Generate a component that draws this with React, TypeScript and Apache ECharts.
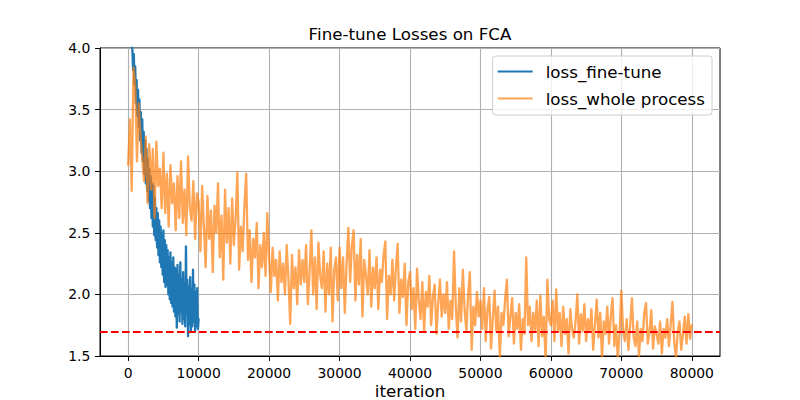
import React, { useEffect, useRef } from "react";
import * as echarts from "echarts";

const FT_STEP = 100;
const WP_STEP = 250;

const seriesNames = ["loss_fine-tune", "loss_whole process"];

// loss_fine-tune, iterations 0..10000 step 100
const ftLoss = [
  4.80, 4.62, 4.45, 4.30, 4.18, 4.05, 3.98, 3.82, 3.95, 3.70,
  3.85, 3.55, 3.74, 3.45, 3.66, 3.36, 3.58, 3.25, 3.48, 3.15,
  3.42, 3.08, 3.32, 2.98, 3.25, 2.90, 3.18, 2.84, 3.10, 2.76,
  3.02, 2.70, 2.96, 2.62, 2.90, 2.55, 2.88, 2.48, 2.78, 2.44,
  2.70, 2.38, 2.66, 2.32, 2.60, 2.26, 2.55, 2.22, 2.50, 2.16,
  2.52, 2.10, 2.44, 2.06, 2.40, 2.08, 2.36, 2.00, 2.30, 1.96,
  2.34, 1.93, 2.26, 1.90, 2.30, 1.86, 2.22, 1.82, 2.20, 1.73,
  2.24, 1.84, 2.16, 1.78, 2.26, 1.86, 2.12, 1.76, 2.18, 1.80,
  2.08, 1.74, 2.39, 1.84, 2.12, 1.66, 2.06, 1.76, 2.14, 1.70,
  2.04, 1.74, 2.20, 1.78, 2.08, 1.70, 2.02, 1.74, 2.05, 1.72,
  1.80,
];

// loss_whole process, iterations 0..80000 step 250
const wpLoss = [
  3.05, 3.42, 2.84, 3.84, 3.70, 3.08, 3.55, 3.28, 3.10, 2.92, 3.28, 2.74, 3.22, 2.85, 3.18, 2.62, 3.24, 2.88, 3.02, 2.70,
  3.15, 2.66, 2.98, 2.55, 3.05, 2.74, 2.90, 2.52, 2.96, 2.62, 3.08, 2.58, 2.85, 2.48, 3.12, 2.70, 2.60, 2.92, 2.45, 2.82,
  2.75, 2.35, 2.88, 2.55, 2.22, 2.80, 2.45, 2.68, 2.18, 2.72, 2.50, 2.90, 2.30, 2.64, 2.12, 2.85, 2.42, 2.70, 2.25, 2.78,
  2.40, 2.62, 2.99, 2.20, 2.55, 2.35, 2.72, 2.98, 2.28, 2.52, 2.10, 2.45, 2.30, 2.58, 2.05, 2.40, 2.22, 2.50, 2.15, 2.66,
  2.30, 2.02, 2.38, 2.15, 2.28, 1.95, 2.35, 2.10, 2.25, 2.00, 2.40, 2.12, 1.76, 2.32, 2.05, 2.22, 1.92, 2.36, 2.08, 2.28,
  2.10, 2.40, 1.92, 2.18, 2.52, 2.00, 2.30, 1.88, 2.42, 2.15, 2.05, 2.35, 1.86, 2.25, 2.00, 2.38, 1.78, 2.20, 2.30, 1.95,
  2.38, 2.05, 2.30, 1.85, 2.25, 2.54, 2.10, 2.40, 2.52, 1.95, 2.32, 2.08, 2.45, 1.82, 2.28, 2.15, 2.00, 2.36, 1.90, 2.22,
  2.05, 2.30, 1.88, 2.20, 2.10, 2.32, 2.43, 1.80, 2.15, 2.00, 2.28, 1.95, 2.22, 2.41, 1.85, 2.12, 1.98, 2.25, 1.75, 2.10,
  2.18, 1.88, 2.05, 1.72, 2.21, 1.95, 1.80, 2.10, 1.70, 2.02, 1.90, 2.15, 1.75, 1.98, 2.08, 1.68, 1.92, 2.12, 1.82, 2.00,
  1.85, 2.10, 1.72, 1.95, 1.80, 2.35, 1.90, 1.65, 2.05, 1.78, 2.20, 1.88, 1.70, 2.00, 2.18, 1.55, 1.90, 1.75, 2.02, 1.82,
  1.95, 1.72, 2.05, 1.62, 1.88, 1.98, 1.56, 1.80, 2.03, 1.70, 1.90, 1.48, 1.85, 1.75, 1.96, 2.12, 1.66, 1.82, 1.97, 1.60,
  1.85, 1.72, 1.92, 1.55, 1.80, 1.68, 2.30, 1.75, 1.90, 1.62, 1.85, 1.70, 1.95, 1.58, 1.99, 1.66, 1.82, 1.46, 2.12, 1.80,
  1.75, 1.95, 1.62, 2.04, 1.70, 1.85, 1.58, 1.90, 1.68, 1.80, 1.52, 1.88, 1.72, 1.65, 1.78, 2.00, 1.60, 1.84, 1.70, 1.92,
  1.62, 1.80, 1.70, 1.88, 1.55, 1.75, 1.96, 1.65, 1.85, 1.48, 1.78, 1.68, 1.90, 1.60, 1.82, 1.97, 1.58, 1.75, 1.47, 1.70,
  2.03, 1.70, 1.62, 1.80, 1.55, 1.75, 1.97, 1.65, 1.58, 1.78, 1.50, 1.72, 1.62, 1.85, 1.93, 1.60, 1.70, 1.87, 1.56, 1.74,
  1.68, 1.60, 1.78, 1.52, 1.72, 1.65, 1.80, 1.58, 1.75, 1.94, 1.62, 1.48, 1.70, 1.78, 1.55, 1.68, 1.82, 1.60, 1.84, 1.64,
  1.75,
];

const xTicks = [0, 10000, 20000, 30000, 40000, 50000, 60000, 70000, 80000];
const yTicks = [1.5, 2.0, 2.5, 3.0, 3.5, 4.0];
const baseline = 1.7;

const FONT = "DejaVu Sans";

export default function App() {
  const ref = useRef<HTMLDivElement>(null);

  useEffect(() => {
    if (!ref.current) return;
    const chart = echarts.init(ref.current, null, { renderer: "svg" });
    chart.setOption({
      animation: false,
      backgroundColor: "#ffffff",
      graphic: [
        {
          type: "text",
          x: 410,
          y: 34,
          style: {
            text: "Fine-tune Losses on FCA",
            fontFamily: FONT,
            fontSize: 16.7,
            fill: "#000000",
            align: "center",
            verticalAlign: "middle",
          },
        },
      ],
      grid: {
        left: 100,
        right: 80,
        top: 48,
        bottom: 44,
        show: true,
        borderColor: "#000000",
        borderWidth: 1,
        backgroundColor: "transparent",
        outerBoundsMode: "none",
        containLabel: false,
      },
      legend: {
        right: 88,
        top: 56,
        orient: "vertical",
        icon: "rect",
        itemWidth: 35,
        itemHeight: 2.2,
        itemGap: 8,
        padding: [6, 7, 7, 5],
        backgroundColor: "rgba(255,255,255,0.8)",
        borderColor: "#cccccc",
        borderWidth: 1,
        borderRadius: 3,
        textStyle: {
          fontFamily: FONT,
          fontSize: 16.7,
          color: "#000000",
          lineHeight: 19,
          padding: [0, 0, 0, 8],
        },
        data: [
          { name: seriesNames[0], itemStyle: { color: "#1f77b4" } },
          { name: seriesNames[1], itemStyle: { color: "#ff7f0e", opacity: 0.7 } },
        ],
      },
      xAxis: {
        type: "value",
        min: -4000,
        max: 84000,
        splitNumber: 9,
        name: "iteration",
        nameLocation: "middle",
        nameGap: 35,
        nameMoveOverlap: false,
        nameTextStyle: {
          fontFamily: FONT,
          fontSize: 16.7,
          color: "#000000",
          verticalAlign: "middle",
          lineHeight: 14,
        },
        axisLine: { show: true, onZero: false, lineStyle: { color: "#000000", width: 1 } },
        axisTick: {
          show: true,
          length: 4.9,
          customValues: xTicks,
          lineStyle: { color: "#000000", width: 1 },
        },
        axisLabel: {
          customValues: xTicks,
          margin: 9.7,
          fontFamily: FONT,
          fontSize: 13.9,
          color: "#000000",
          formatter: (v: number) => (v % 10000 === 0 && v >= 0 && v <= 80000 ? String(v) : ""),
        },
        splitLine: { show: true, lineStyle: { color: "#b0b0b0", width: 1.1 } },
      },
      yAxis: {
        type: "value",
        min: yTicks[0],
        max: yTicks[yTicks.length - 1],
        interval: 0.5,
        axisLine: { show: true, onZero: false, lineStyle: { color: "#000000", width: 1 } },
        axisTick: { show: true, length: 4.9, lineStyle: { color: "#000000", width: 1 } },
        axisLabel: {
          margin: 9.7,
          fontFamily: FONT,
          fontSize: 13.9,
          color: "#000000",
          formatter: (v: number) => v.toFixed(1),
        },
        splitLine: { show: true, lineStyle: { color: "#b0b0b0", width: 1.1 } },
      },
      series: [
        {
          type: "line",
          name: seriesNames[0],
          data: ftLoss.map((v, i) => [i * FT_STEP, v]),
          symbol: "none",
          showSymbol: false,
          z: 2,
          itemStyle: { color: "#1f77b4" },
          lineStyle: { color: "#1f77b4", width: 2.3, cap: "round", join: "round" },
        },
        {
          type: "line",
          name: seriesNames[1],
          data: wpLoss.map((v, i) => [i * WP_STEP, v]),
          symbol: "none",
          showSymbol: false,
          z: 3,
          itemStyle: { color: "#ff7f0e" },
          lineStyle: { color: "#ff7f0e", width: 2.3, opacity: 0.7, cap: "round", join: "round" },
          markLine: {
            silent: true,
            symbol: ["none", "none"],
            label: { show: false },
            z: 10,
            lineStyle: { color: "#ff0000", type: [7.7, 3.3], width: 2.08 },
            data: [{ yAxis: baseline }],
          },
        },
      ],
    });
    return () => chart.dispose();
  }, []);

  return (
    <div
      ref={ref}
      style={{ position: "fixed", left: 0, top: 0, width: 800, height: 400 }}
    />
  );
}
